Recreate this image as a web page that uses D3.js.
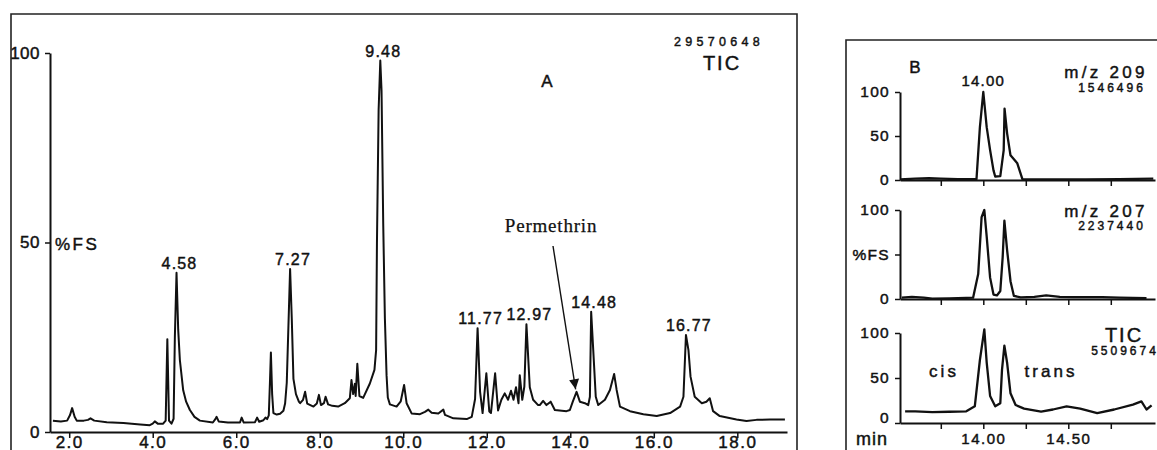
<!DOCTYPE html>
<html>
<head>
<meta charset="utf-8">
<script src="https://cdn.jsdelivr.net/npm/d3@7"></script>
<style>
  body { margin: 0; background: #fff; }
  svg { display: block; }
  text { font-family: "Liberation Sans", Arial, sans-serif; fill: #111;
         stroke: #111; stroke-width: 0.45px; paint-order: stroke; }
  .axis path, .axis line { stroke: #111; }
  .serif { font-family: "Liberation Serif", "Times New Roman", serif; stroke-width: 0.25px; }
</style>
</head>
<body>
<div id="chart"></div>
<script>
// Panel A: total ion chromatogram (%FS vs retention time, min)
const ticTimeA = [1.61, 1.80, 1.95, 2.02, 2.07, 2.13, 2.18, 2.35, 2.45, 2.51, 2.60, 2.90, 3.30, 3.70, 3.93, 4.00, 4.05, 4.12, 4.25,
  4.31, 4.35, 4.39, 4.45, 4.50, 4.53, 4.57, 4.61, 4.65, 4.73, 4.80, 4.89, 5.00, 5.13, 5.44, 5.50, 5.53, 5.58, 5.80,
  6.09, 6.13, 6.18, 6.45, 6.50, 6.55, 6.65, 6.70, 6.74, 6.78, 6.81, 6.83, 6.86, 6.89, 6.97, 7.05, 7.13, 7.17, 7.21,
  7.25, 7.29, 7.33, 7.37, 7.43, 7.50, 7.53, 7.60, 7.65, 7.70, 7.85, 7.93, 7.98, 8.03, 8.10, 8.14, 8.20, 8.30, 8.44,
  8.60, 8.72, 8.76, 8.80, 8.84, 8.86, 8.90, 8.95, 9.04, 9.20, 9.31, 9.35, 9.37, 9.41, 9.45, 9.48, 9.52, 9.56, 9.60,
  9.63, 9.68, 9.84, 9.94, 10.02, 10.08, 10.20, 10.40, 10.52, 10.60, 10.68, 10.84, 10.96, 11.00, 11.20, 11.52, 11.64,
  11.72, 11.78, 11.84, 11.90, 11.99, 12.06, 12.10, 12.20, 12.27, 12.35, 12.43, 12.51, 12.58, 12.64, 12.70, 12.76,
  12.79, 12.85, 12.90, 12.95, 13.03, 13.11, 13.23, 13.27, 13.35, 13.43, 13.53, 13.63, 13.91, 13.99, 14.06, 14.15,
  14.23, 14.35, 14.43, 14.47, 14.50, 14.55, 14.61, 14.67, 14.83, 14.95, 15.05, 15.11, 15.19, 15.43, 15.75, 16.07,
  16.39, 16.63, 16.71, 16.77, 16.83, 16.88, 16.98, 17.15, 17.26, 17.34, 17.42, 17.58, 17.98, 18.22, 18.46, 18.78, 19.14];
const ticValA = [3.0, 2.8, 3.0, 4.5, 6.3, 4.0, 3.0, 3.0, 3.2, 3.6, 3.0, 2.6, 2.4, 2.0, 1.8, 2.2, 2.8, 2.2, 2.2,
  3.0, 24.5, 3.0, 2.2, 3.5, 25, 42, 27, 19, 11, 8, 5.8, 4.0, 3.0, 2.5, 3.4, 4.0, 2.8, 2.5,
  2.5, 3.8, 2.5, 2.6, 3.8, 2.7, 3.1, 3.8, 3.4, 4.4, 14, 21, 10, 5.0, 4.6, 4.8, 5.6, 7.5, 13,
  28, 43, 30, 14, 10, 8, 7.6, 8.5, 10.6, 7.5, 6.7, 7.5, 9.8, 7.1, 7.6, 9.3, 7.3, 6.9, 6.7,
  7.6, 8.9, 13.7, 10, 12.7, 9.5, 18, 9.5, 9.0, 12.8, 16.4, 21.6, 50, 85, 98, 90, 55, 30, 15,
  9.1, 7.3, 6.7, 8.1, 12.4, 7.6, 4.9, 4.7, 5.3, 5.9, 5.1, 4.9, 5.9, 4.5, 3.6, 3.4, 4.0,
  8.7, 27.4, 10.6, 5.0, 15.5, 5.4, 5.0, 15.5, 5.7, 8.5, 10.2, 8.5, 10.9, 8.5, 11.8, 7.6,
  15, 8.5, 12, 28.4, 11.8, 8.5, 7.1, 7.1, 8.2, 7.1, 8.0, 5.8, 5.5, 5.8, 8.0, 10.6,
  8.0, 7.6, 7.1, 9.3, 31.7, 21.6, 9.3, 7.1, 8.5, 11.1, 15.3, 11.1, 6.7, 5.5, 4.7, 4.2,
  5.0, 6.7, 9.3, 25.6, 21.6, 14.6, 9.3, 7.6, 8.0, 8.9, 5.5, 4.2, 3.3, 2.9, 3.2, 3.3, 3.3];

const peakLabelsA = ["4.58", "7.27", "9.48", "11.77", "12.97", "14.48", "16.77"];
const peakTimesA = [4.57, 7.29, 9.45, 11.78, 12.95, 14.50, 16.77];
const peakValsA = [42, 43, 98, 27.4, 28.4, 31.7, 25.6];
const tickTimesA = [2, 4, 6, 8, 10, 12, 14, 16, 18];
const tickValsY = [0, 50, 100];

// Permethrin arrow: from label down to the small peak
const permethrinTime = 14.2;
const permethrinVal = 11.8;

// Panel B: zoomed permethrin region
const mz209Time = [13.51, 13.60, 13.68, 13.75, 13.85, 13.96, 13.98, 14.00, 14.02, 14.04, 14.06, 14.07, 14.10, 14.12, 14.125,
  14.14, 14.16, 14.20, 14.23, 14.40, 14.60, 14.80, 15.00];
const mz209Val = [0.8, 1.5, 2.0, 1.5, 1.0, 1.0, 60, 100, 60, 34, 11, 4, 4.5, 34, 81, 53, 28, 19, 1, 0.8, 0.8, 1.0, 1.5];

const mz207Time = [13.52, 13.58, 13.65, 13.70, 13.80, 13.90, 13.94, 13.97, 13.99, 14.006, 14.02, 14.04, 14.06, 14.08, 14.10,
  14.114, 14.124, 14.14, 14.16, 14.18, 14.22, 14.30, 14.37, 14.45, 14.53, 14.70, 14.80, 14.96];
const mz207Val = [1.5, 2.3, 1.5, 0.5, 0.8, 1.2, 1.5, 28, 92, 100, 70, 24, 5, 4, 9, 47, 88, 55, 20, 3.5, 1.8, 2.5, 4, 2.5, 2, 2, 1.5, 1];

const ticTimeB = [13.54, 13.60, 13.70, 13.80, 13.90, 13.95, 13.98, 14.006, 14.02, 14.04, 14.07, 14.10, 14.11, 14.124, 14.14,
  14.16, 14.19, 14.24, 14.34, 14.41, 14.49, 14.57, 14.67, 14.77, 14.88, 14.93, 14.96, 14.99];
const ticValB = [13, 13, 12, 12.5, 13, 18.5, 70, 104, 67, 30, 18.5, 22, 59, 86, 67, 33, 20, 16, 12.6, 15, 18.5, 16, 11, 15, 20.5, 24, 15, 19.5];

const tickTimesB = [13.75, 14.0, 14.25, 14.5, 14.75];
const panelNamesB = ["m/z 209", "m/z 207", "TIC"];
const panelCountsB = ["1546496", "2237440", "5509674"];

const svg = d3.select("#chart").append("svg")
  .attr("width", 1157)
  .attr("height", 450);

// ---------- Panel A ----------
const xA = d3.scaleLinear().domain([1.54, 19.19]).range([50, 787]);
const yA = d3.scaleLinear().domain([0, 100]).range([432, 53]);

// frame
svg.append("path")
  .attr("d", "M11,450 V14 H797 V450")
  .attr("fill", "none").attr("stroke", "#222").attr("stroke-width", 1.6);

const axAx = svg.append("g").attr("class", "axis")
  .attr("transform", "translate(0,432)")
  .call(d3.axisBottom(xA).tickValues(tickTimesA).tickFormat(d3.format(".1f"))
    .tickSize(6).tickSizeOuter(0).tickPadding(-2));
axAx.select(".domain").attr("stroke-width", 2.2);
axAx.selectAll(".tick line").attr("stroke-width", 1.5);
axAx.selectAll("text").attr("font-size", 17).attr("letter-spacing", 1.5);

const ayAx = svg.append("g").attr("class", "axis")
  .attr("transform", "translate(50,0)")
  .call(d3.axisLeft(yA).tickValues(tickValsY).tickSize(5).tickSizeOuter(0).tickPadding(5));
ayAx.select(".domain").attr("stroke-width", 2);
ayAx.selectAll(".tick line").attr("stroke-width", 1.5);
ayAx.selectAll("text").attr("font-size", 17).attr("letter-spacing", 0.5);

svg.append("text").attr("x", 55).attr("y", yA(50) + 7)
  .attr("font-size", 17).attr("letter-spacing", 2.5).text("%FS");

const lineA = d3.line().x((d, i) => xA(ticTimeA[i])).y(d => yA(d));
svg.append("path").datum(ticValA)
  .attr("d", lineA).attr("fill", "none")
  .attr("stroke", "#111").attr("stroke-width", 2).attr("stroke-linejoin", "round");

svg.selectAll(".peakA").data(peakLabelsA).join("text")
  .attr("class", "peakA")
  .attr("x", (d, i) => xA(peakTimesA[i]) + 3)
  .attr("y", (d, i) => yA(peakValsA[i]) - 4)
  .attr("text-anchor", "middle")
  .attr("font-size", 16).attr("letter-spacing", 1.2)
  .text(d => d);

svg.append("text").attr("x", 547).attr("y", 87).attr("text-anchor", "middle")
  .attr("font-size", 17).text("A");
svg.append("text").attr("x", 719).attr("y", 46).attr("text-anchor", "middle")
  .attr("font-size", 12.5).attr("letter-spacing", 4.3).text("29570648");
svg.append("text").attr("x", 722).attr("y", 70).attr("text-anchor", "middle")
  .attr("font-size", 20).attr("letter-spacing", 2).text("TIC");

svg.append("text").attr("class", "serif").attr("x", 551).attr("y", 232)
  .attr("text-anchor", "middle").attr("font-size", 19).attr("letter-spacing", 0.8)
  .text("Permethrin");

svg.append("defs").append("marker")
  .attr("id", "arrow").attr("viewBox", "0 0 10 10")
  .attr("refX", 10).attr("refY", 5)
  .attr("markerWidth", 16).attr("markerHeight", 10)
  .attr("markerUnits", "userSpaceOnUse")
  .attr("orient", "auto")
  .append("path").attr("d", "M0,0 L10,5 L0,10 z").attr("fill", "#111");
svg.append("line")
  .attr("x1", 553).attr("y1", 246)
  .attr("x2", xA(permethrinTime) - 3).attr("y2", yA(permethrinVal) + 2)
  .attr("stroke", "#111").attr("stroke-width", 1.4)
  .attr("marker-end", "url(#arrow)");

// ---------- Panel B ----------
const xB = d3.scaleLinear().domain([13.51, 15.01]).range([900, 1155]);
const yRangesB = [[180, 92], [299, 210], [423, 333]];
const seriesB = [[mz209Time, mz209Val], [mz207Time, mz207Val], [ticTimeB, ticValB]];
const nameYB = [78, 217, 342];
const countYB = [92, 230, 355];

svg.append("path")
  .attr("d", "M846,450 V40 H1157")
  .attr("fill", "none").attr("stroke", "#222").attr("stroke-width", 1.6);

seriesB.forEach((s, k) => {
  const yB = d3.scaleLinear().domain([0, 100]).range(yRangesB[k]);
  const last = k === 2;

  const gx = svg.append("g").attr("class", "axis")
    .attr("transform", `translate(0,${yRangesB[k][0]})`)
    .call(d3.axisBottom(xB).tickValues(tickTimesB)
      .tickFormat(d => last && (d === 14 || d === 14.5) ? d3.format(".2f")(d) : "")
      .tickSize(6).tickSizeOuter(0).tickPadding(4));
  gx.select(".domain").attr("stroke-width", 2.2);
  gx.selectAll(".tick line").attr("stroke-width", 1.5);
  gx.selectAll("text").attr("font-size", 15).attr("letter-spacing", 1.5);

  const gy = svg.append("g").attr("class", "axis")
    .attr("transform", "translate(900,0)")
    .call(d3.axisLeft(yB).tickValues(tickValsY)
      .tickFormat(d => (k === 1 && d === 50) ? "%FS" : d)
      .tickSize(5).tickSizeOuter(0).tickPadding(5));
  gy.select(".domain").attr("stroke-width", 2);
  gy.selectAll(".tick line").attr("stroke-width", 1.5);
  gy.selectAll("text").attr("font-size", 15.5).attr("letter-spacing", 1.3);
  // the lowest "0" sits raised above the bottom axis, as in the print
  if (last) gy.selectAll(".tick text").filter(d => d === 0).attr("dy", "-0.05em");

  svg.append("path").datum(s[1])
    .attr("d", d3.line().x((d, i) => xB(s[0][i])).y(d => yB(d)))
    .attr("fill", "none").attr("stroke", "#111")
    .attr("stroke-width", 2.3).attr("stroke-linejoin", "round");

  svg.append("text").attr("x", last ? 1124 : 1106).attr("y", nameYB[k])
    .attr("text-anchor", "middle")
    .attr("font-size", last ? 20 : 17).attr("letter-spacing", last ? 2 : 3.3)
    .text(panelNamesB[k]);
  svg.append("text").attr("x", last ? 1125 : 1112).attr("y", countYB[k])
    .attr("text-anchor", "middle")
    .attr("font-size", 12).attr("letter-spacing", 3)
    .text(panelCountsB[k]);
});

const yTop = d3.scaleLinear().domain([0, 100]).range(yRangesB[0]);
const yBot = d3.scaleLinear().domain([0, 100]).range(yRangesB[2]);
svg.append("text").attr("x", 915).attr("y", 73).attr("text-anchor", "middle")
  .attr("font-size", 17).text("B");
svg.append("text").attr("x", xB(14)).attr("y", yTop(100) - 6).attr("text-anchor", "middle")
  .attr("font-size", 15).attr("letter-spacing", 1.2).text("14.00");
svg.append("text").attr("x", 944).attr("y", 377).attr("text-anchor", "middle")
  .attr("font-size", 17).attr("letter-spacing", 3).text("cis");
svg.append("text").attr("x", 1051).attr("y", 377).attr("text-anchor", "middle")
  .attr("font-size", 17).attr("letter-spacing", 3).text("trans");
svg.append("text").attr("x", 872).attr("y", yBot(0) + 22).attr("text-anchor", "middle")
  .attr("font-size", 18).attr("letter-spacing", 1).text("min");
</script>
</body>
</html>
